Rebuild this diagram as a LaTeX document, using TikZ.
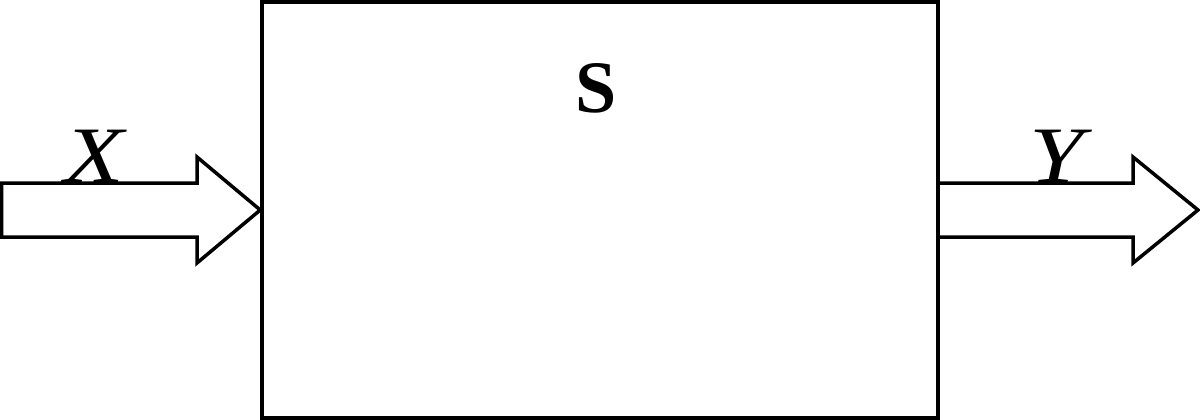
\documentclass[tikz,border=0pt]{standalone}
\usepackage{fontspec}
\setmainfont{Liberation Serif}
\newfontfamily\widefont[FakeStretch=1.22]{Liberation Serif}
\begin{document}
\begin{tikzpicture}[x=1pt,y=-1pt,
  line/.style={line width=3.5pt, line join=miter},
  lbl/.style={font=\widefont\fontsize{80}{82}\selectfont\itshape, inner sep=0pt, anchor=base},
  blk/.style={line, draw, minimum width=676pt, minimum height=416pt, inner sep=0pt}]
\useasboundingbox (0,0) rectangle (1200,420);
\node[blk] (box) at (600,210) {};
\node[font=\fontsize{74}{76}\selectfont\bfseries, inner sep=0pt, anchor=base] (s) at (596,112) {S};
% input arrow
\coordinate (inL) at (1.5,210);
\draw[line] (inL) ++(0,-27) -- (197,183) -- (197,157) -- (box.west) -- (197,263) -- (197,237) -- (1.5,237) -- cycle;
% output arrow
\coordinate (outT) at (1198,210);
\draw[line] (box.east) ++(0,-27) -- (1133,183) -- (1133,157) -- (outT) -- (1133,263) -- (1133,237) -- (938,237);
\node[lbl] (x) at (94,182) {X};
\node[lbl] (y) at (1057,182) {Y};
\end{tikzpicture}
\end{document}
